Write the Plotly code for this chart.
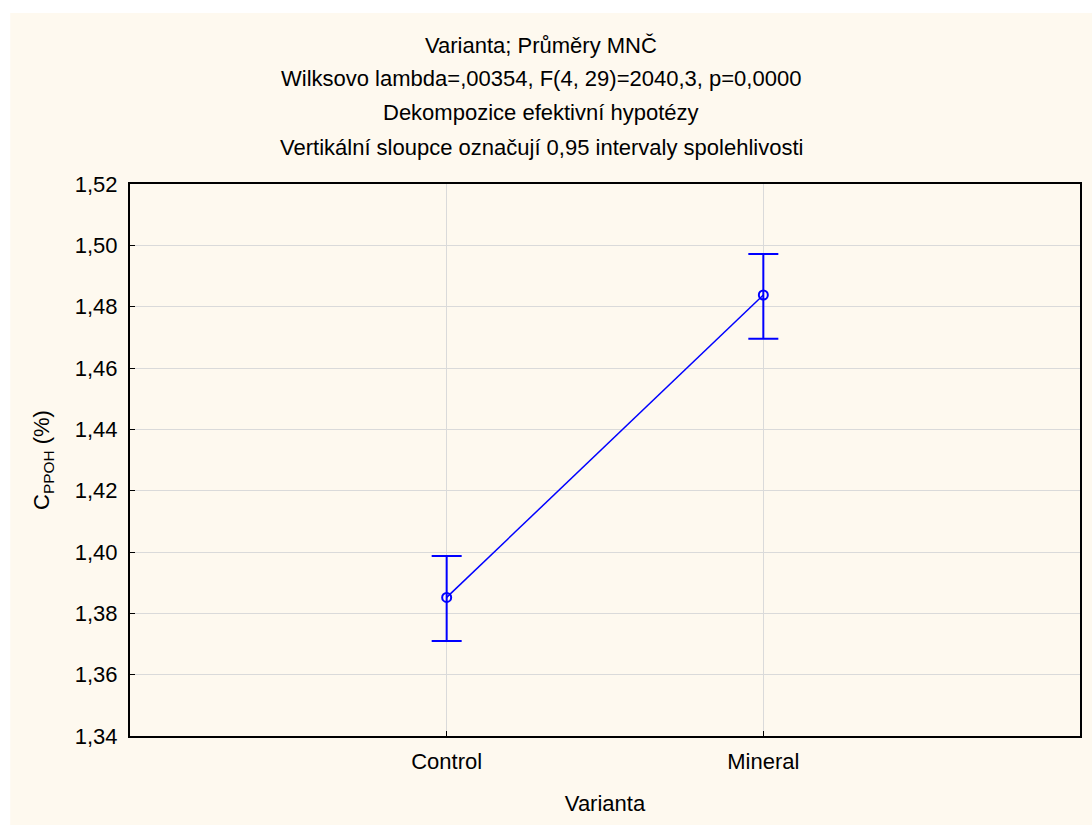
import plotly.graph_objects as go

categories = ["Control", "Mineral"]
means = [1.3852, 1.4838]
upper = [1.3987, 1.4972]
lower = [1.3710, 1.4695]

title_lines = [
    "Varianta; Průměry MNČ",
    "Wilksovo lambda=,00354, F(4, 29)=2040,3, p=0,0000",
    "Dekompozice efektivní hypotézy",
    "Vertikální sloupce označují 0,95 intervaly spolehlivosti",
]
y_ticks = [1.34, 1.36, 1.38, 1.40, 1.42, 1.44, 1.46, 1.48, 1.50, 1.52]

xpos = list(range(len(categories)))
err_plus = [u - m for u, m in zip(upper, means)]
err_minus = [m - l for m, l in zip(means, lower)]

BLUE = "#0000FF"
FONT = "Liberation Sans, Arial, sans-serif"

fig = go.Figure()
fig.add_trace(go.Scatter(
    x=xpos, y=means, mode="lines+markers",
    line=dict(color=BLUE, width=1.5),
    marker=dict(symbol="circle-open", size=9, color=BLUE, line=dict(width=2, color=BLUE)),
    error_y=dict(type="data", symmetric=False, array=err_plus, arrayminus=err_minus,
                 color=BLUE, thickness=2, width=15),
    showlegend=False,
))

fig.update_layout(
    width=1092, height=825,
    margin=dict(l=130, r=10, t=184, b=89),
    paper_bgcolor="white",
    plot_bgcolor="white",
    separators=", ",
    font=dict(family=FONT, size=22, color="black"),
    shapes=[dict(type="rect", xref="paper", yref="paper",
                 x0=-120 / 952, x1=1.02, y0=-0.3, y1=(825 - 13 - 89) / 552,
                 fillcolor="#FEF9EF", line=dict(width=0), layer="below")],
)

fig.update_xaxes(
    range=[-1, 2], tickvals=xpos, ticktext=categories,
    showgrid=True, gridcolor="#DADADA", gridwidth=1, zeroline=False,
    showline=True, linecolor="black", linewidth=2, mirror=True,
    ticks="inside", ticklen=5, tickcolor="black",
    tickfont=dict(size=22), ticklabelstandoff=5,
    title=dict(text="Varianta", font=dict(size=22), standoff=22),
)
fig.update_yaxes(
    range=[1.34, 1.52], tickvals=y_ticks, tickformat=".2f",
    showgrid=True, gridcolor="#DADADA", gridwidth=1, zeroline=False,
    showline=True, linecolor="black", linewidth=2, mirror=True,
    ticks="inside", ticklen=5, tickcolor="black",
    tickfont=dict(size=22), ticklabelstandoff=6,
    title=dict(text="C<sub>PPOH</sub> (%)", font=dict(size=22), standoff=19),
)

ys = [45, 79, 113, 148]
for txt, yp in zip(title_lines, ys):
    fig.add_annotation(
        text=txt, xref="paper", yref="paper",
        x=(542 - 130) / 952, y=(825 - 89 - yp) / 552, xanchor="center", yanchor="middle",
        showarrow=False, font=dict(size=22),
    )

fig.write_html("out.html")
